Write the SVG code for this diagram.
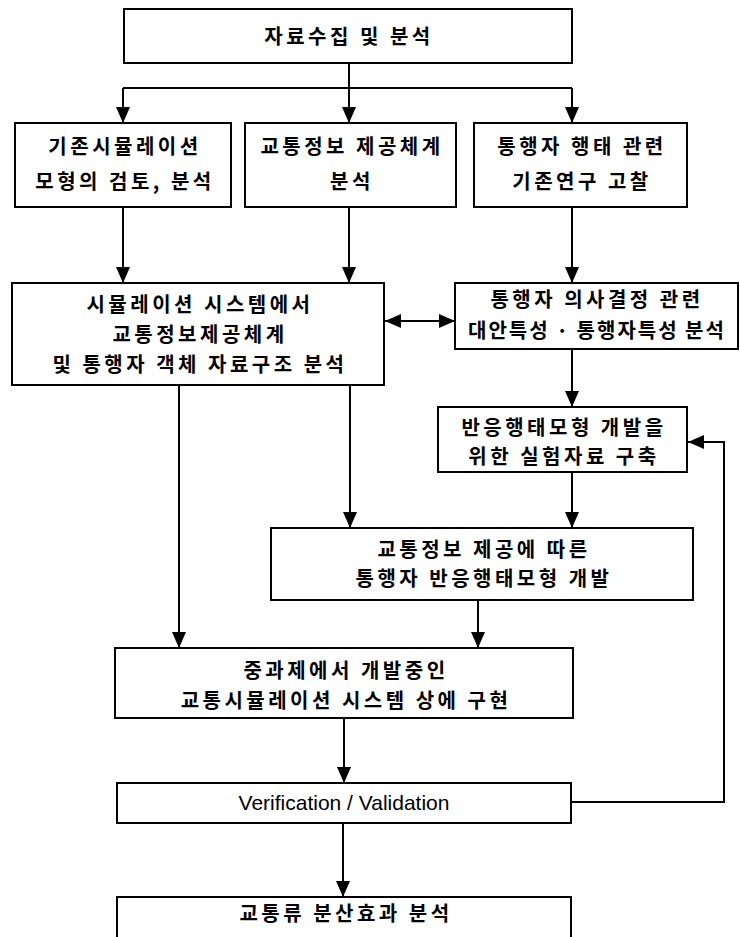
<svg xmlns="http://www.w3.org/2000/svg" width="740" height="937" viewBox="0 0 740 937">
  <defs>
    <marker id="arrow" viewBox="0 0 16 14" refX="16" refY="7" markerWidth="16" markerHeight="14" markerUnits="userSpaceOnUse" orient="auto-start-reverse">
      <path d="M0,0 L16,7 L0,14 Z" fill="#000"/>
    </marker>
    <style>
      .box { fill: #fff; stroke: #000; stroke-width: 2; }
      .ko { font-family: "Noto Sans CJK KR", "Noto Sans", sans-serif; font-size: 20px; font-weight: 600; letter-spacing: 3.5px; text-anchor: middle; fill: #000; }
      .ko.tight { letter-spacing: 2px; }
      .en { font-family: "Liberation Sans", Arial, sans-serif; font-size: 21px; text-anchor: middle; fill: #000; }
      .wire { fill: none; stroke: #000; stroke-width: 2; }
    </style>
  </defs>
  <rect width="740" height="937" fill="#fff"/>

  <g id="connectors">
    <path class="wire" d="M349,63 V88 M123,88 H572"/>
    <line class="wire" x1="123" y1="88" x2="123" y2="123" marker-end="url(#arrow)"/>
    <line class="wire" x1="349" y1="88" x2="349" y2="123" marker-end="url(#arrow)"/>
    <line class="wire" x1="572" y1="88" x2="572" y2="123" marker-end="url(#arrow)"/>
    <line class="wire" x1="123" y1="207" x2="123" y2="283" marker-end="url(#arrow)"/>
    <line class="wire" x1="349" y1="207" x2="349" y2="283" marker-end="url(#arrow)"/>
    <line class="wire" x1="572" y1="207" x2="572" y2="283" marker-end="url(#arrow)"/>
    <line class="wire" x1="385" y1="321" x2="455" y2="321" marker-start="url(#arrow)" marker-end="url(#arrow)"/>
    <line class="wire" x1="572" y1="349" x2="572" y2="407" marker-end="url(#arrow)"/>
    <line class="wire" x1="572" y1="472" x2="572" y2="528" marker-end="url(#arrow)"/>
    <line class="wire" x1="350" y1="385" x2="350" y2="528" marker-end="url(#arrow)"/>
    <line class="wire" x1="179" y1="385" x2="179" y2="648" marker-end="url(#arrow)"/>
    <line class="wire" x1="478" y1="600" x2="478" y2="648" marker-end="url(#arrow)"/>
    <line class="wire" x1="344" y1="718" x2="344" y2="783" marker-end="url(#arrow)"/>
    <polyline class="wire" points="571,802 724,802 724,442 688,442" marker-end="url(#arrow)"/>
    <line class="wire" x1="343" y1="823" x2="343" y2="897" marker-end="url(#arrow)"/>
  </g>

  <g id="n-collect">
    <rect class="box" x="124" y="9" width="448" height="54"/>
    <text class="ko" x="349" y="44">자료수집 및 분석</text>
  </g>

  <g id="n-review">
    <rect class="box" x="15" y="123" width="216" height="84"/>
    <text class="ko" x="125" y="154">기존시뮬레이션</text>
    <text class="ko" x="125" y="189">모형의 검토, 분석</text>
  </g>

  <g id="n-info">
    <rect class="box" x="245" y="123" width="211" height="84"/>
    <text class="ko" x="352" y="154">교통정보 제공체계</text>
    <text class="ko" x="352" y="189">분석</text>
  </g>

  <g id="n-behavior">
    <rect class="box" x="474" y="123" width="213" height="84"/>
    <text class="ko" x="582" y="154">통행자 행태 관련</text>
    <text class="ko" x="582" y="189">기존연구 고찰</text>
  </g>

  <g id="n-structure">
    <rect class="box" x="12" y="283" width="372" height="102"/>
    <text class="ko" x="200" y="312">시뮬레이션 시스템에서</text>
    <text class="ko" x="200" y="342">교통정보제공체계</text>
    <text class="ko" x="200" y="372">및 통행자 객체 자료구조 분석</text>
  </g>

  <g id="n-decision">
    <rect class="box" x="455" y="283" width="283" height="66"/>
    <text class="ko" x="597" y="307">통행자 의사결정 관련</text>
    <text class="ko tight" x="597" y="338">대안특성 · 통행자특성 분석</text>
  </g>

  <g id="n-experiment">
    <rect class="box" x="438" y="407" width="249" height="65"/>
    <text class="ko" x="564" y="435">반응행태모형 개발을</text>
    <text class="ko" x="564" y="464">위한 실험자료 구축</text>
  </g>

  <g id="n-model">
    <rect class="box" x="271" y="528" width="422" height="72"/>
    <text class="ko" x="484" y="557">교통정보 제공에 따른</text>
    <text class="ko" x="484" y="586">통행자 반응행태모형 개발</text>
  </g>

  <g id="n-implement">
    <rect class="box" x="115" y="648" width="458" height="70"/>
    <text class="ko" x="346" y="678">중과제에서 개발중인</text>
    <text class="ko" x="346" y="708">교통시뮬레이션 시스템 상에 구현</text>
  </g>

  <g id="n-verify">
    <rect class="box" x="117" y="783" width="454" height="40"/>
    <text class="en" x="344" y="810">Verification / Validation</text>
  </g>

  <g id="n-effect">
    <path class="box" d="M117,940 V897 H571 V940"/>
    <text class="ko" x="346" y="921">교통류 분산효과 분석</text>
  </g>
</svg>
